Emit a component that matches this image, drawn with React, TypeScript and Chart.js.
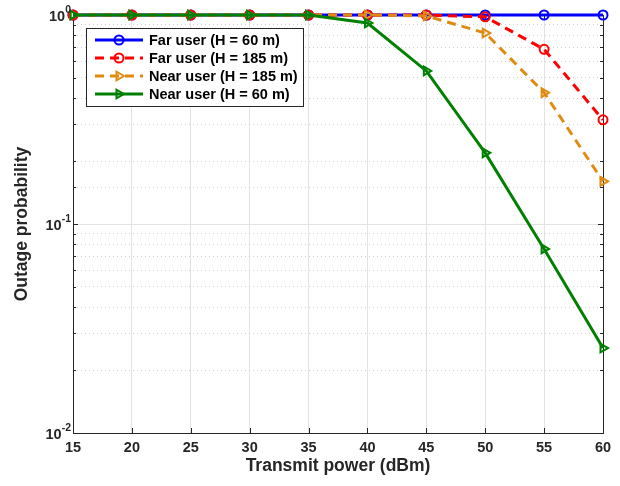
import React, { useEffect, useRef } from 'react';
import { Chart, registerables } from 'chart.js';

Chart.register(...registerables);

// ---------- data ----------
const transmitPower = [15, 20, 25, 30, 35, 40, 45, 50, 55, 60];
const farUserH60 = [1, 1, 1, 1, 1, 1, 1, 1, 1, 1];
const farUserH185 = [1, 1, 1, 1, 1, 1, 1, 0.98, 0.685, 0.315];
const nearUserH185 = [1, 1, 1, 1, 1, 1, 0.99, 0.82, 0.425, 0.16];
const nearUserH60 = [1, 1, 1, 1, 1, 0.916, 0.54, 0.219, 0.076, 0.0255];
const seriesLabels = [
  'Far user (H = 60 m)',
  'Far user (H = 185 m)',
  'Near user (H = 185 m)',
  'Near user (H = 60 m)',
];
const yTickExponents = [0, -1, -2];
const xTicks = [15, 20, 25, 30, 35, 40, 45, 50, 55, 60];

const FONT = "'Liberation Sans', Arial, sans-serif";
const TEXT = '#262626';

const toPoints = (ys: number[]) => transmitPower.map((x, i) => ({ x, y: ys[i] }));

function drawMarker(ctx: CanvasRenderingContext2D, style: string, x: number, y: number, r: number) {
  ctx.beginPath();
  if (style === 'circle') {
    ctx.arc(x, y, r, 0, Math.PI * 2);
  } else {
    ctx.moveTo(x + r, y);
    ctx.lineTo(x - r * 0.5, y - r * 0.87);
    ctx.lineTo(x - r * 0.5, y + r * 0.87);
    ctx.closePath();
  }
  ctx.stroke();
}

const isMajor = (v: number) => Math.abs(Math.log10(v) - Math.round(Math.log10(v))) < 1e-9;

const framePlugin = {
  id: 'matlabFrame',
  beforeDatasetsDraw(chart: any) {
    const { ctx, chartArea: a, scales } = chart;
    const ys = scales.y;
    const xs = scales.x;
    ctx.save();
    ctx.strokeStyle = TEXT;
    ctx.lineWidth = 1;
    ctx.setLineDash([]);
    ctx.strokeRect(Math.round(a.left) + 0.5, Math.round(a.top) + 0.5, Math.round(a.right - a.left), Math.round(a.bottom - a.top));
    ctx.beginPath();
    xTicks.forEach((v) => {
      const px = Math.round(xs.getPixelForValue(v)) + 0.5;
      ctx.moveTo(px, a.bottom);
      ctx.lineTo(px, a.bottom - 5);
      ctx.moveTo(px, a.top);
      ctx.lineTo(px, a.top + 5);
    });
    ys.ticks.forEach((t: any) => {
      const py = Math.round(ys.getPixelForValue(t.value)) + 0.5;
      const len = isMajor(t.value) ? 5 : 3;
      ctx.moveTo(a.left, py);
      ctx.lineTo(a.left + len, py);
      ctx.moveTo(a.right, py);
      ctx.lineTo(a.right - len, py);
    });
    ctx.stroke();
    ctx.restore();
  },
  afterDraw(chart: any) {
    const { ctx, chartArea: a, scales } = chart;
    const ys = scales.y;
    ctx.save();
    ctx.fillStyle = TEXT;
    ctx.textBaseline = 'middle';
    yTickExponents.forEach((e) => {
      const py = ys.getPixelForValue(Math.pow(10, e));
      const expText = String(e);
      ctx.font = `bold 10.5px ${FONT}`;
      const ew = ctx.measureText(expText).width;
      const right = a.left - 2;
      ctx.textAlign = 'left';
      ctx.fillText(expText, right - ew, py - 5);
      ctx.font = `bold 14.5px ${FONT}`;
      ctx.textAlign = 'right';
      ctx.fillText('10', right - ew, py + 2);
    });

    // legend
    const bx = a.left + 13;
    const by = a.top + 13;
    const bw = 217;
    const bh = 78;
    ctx.fillStyle = '#ffffff';
    ctx.fillRect(bx, by, bw, bh);
    ctx.strokeStyle = TEXT;
    ctx.lineWidth = 1;
    ctx.setLineDash([]);
    ctx.strokeRect(bx + 0.5, by + 0.5, bw, bh);
    chart.data.datasets.forEach((ds: any, i: number) => {
      const ry = by + 12 + i * 18;
      const x0 = bx + 9;
      const x1 = bx + 57;
      ctx.strokeStyle = ds.borderColor;
      ctx.lineWidth = ds.borderWidth;
      ctx.setLineDash(ds.borderDash || []);
      ctx.beginPath();
      ctx.moveTo(x0, ry);
      ctx.lineTo(x1, ry);
      ctx.stroke();
      ctx.setLineDash([]);
      ctx.lineWidth = ds.pointBorderWidth;
      ctx.strokeStyle = ds.pointBorderColor;
      drawMarker(ctx, ds.pointStyle, (x0 + x1) / 2, ry, ds.pointRadius);
      ctx.fillStyle = '#000000';
      ctx.font = `bold 14.5px ${FONT}`;
      ctx.textAlign = 'left';
      ctx.textBaseline = 'middle';
      ctx.fillText(ds.label, x1 + 6, ry + 1);
    });
    ctx.restore();
  },
};

export default function App() {
  const ref = useRef<HTMLCanvasElement | null>(null);

  useEffect(() => {
    if (!ref.current) return;
    const mk = (
      label: string,
      ys: number[],
      color: string,
      style: string,
      dash: number[],
      order: number
    ) => ({
      label,
      data: toPoints(ys),
      borderColor: color,
      backgroundColor: color,
      borderWidth: 3,
      borderDash: dash,
      pointStyle: style,
      pointRotation: style === 'triangle' ? 90 : 0,
      pointRadius: style === 'triangle' ? 5 : 4.5,
      pointHoverRadius: 5,
      pointBorderWidth: 2,
      pointBorderColor: color,
      pointBackgroundColor: 'rgba(0,0,0,0)',
      tension: 0,
      clip: false as const,
      order,
    });

    const chart = new Chart(ref.current, {
      type: 'line',
      data: {
        datasets: [
          mk(seriesLabels[0], farUserH60, '#0000ff', 'circle', [], 4),
          mk(seriesLabels[1], farUserH185, '#ff0000', 'circle', [9, 6], 3),
          mk(seriesLabels[2], nearUserH185, '#e08a10', 'triangle', [9, 6], 2),
          mk(seriesLabels[3], nearUserH60, '#008000', 'triangle', [], 1),
        ],
      },
      options: {
        animation: false,
        responsive: false,
        maintainAspectRatio: false,
        layout: { padding: { top: 15, right: 17, left: 0, bottom: 9 } },
        plugins: { legend: { display: false }, tooltip: { enabled: false } },
        scales: {
          x: {
            type: 'linear',
            min: 15,
            max: 60,
            afterFit: (s: any) => {
              s.height = 44;
            },
            afterBuildTicks: (s: any) => {
              s.ticks = xTicks.map((v) => ({ value: v }));
            },
            ticks: {
              color: TEXT,
              font: { family: FONT, size: 14.5, weight: 'bold' },
              padding: 6,
              maxRotation: 0,
              autoSkip: false,
            },
            grid: { color: '#e3e3e3', lineWidth: 1, drawTicks: false },
            border: { display: false },
            title: {
              display: true,
              text: 'Transmit power (dBm)',
              color: TEXT,
              font: { family: FONT, size: 17.5, weight: 'bold' },
              padding: { top: 0, bottom: 0 },
            },
          },
          y: {
            type: 'logarithmic',
            min: 0.01,
            max: 1,
            afterFit: (s: any) => {
              s.width = 73;
            },
            ticks: {
              callback: () => '',
              autoSkip: false,
            },
            grid: {
              drawTicks: false,
              color: (c: any) => {
                const v = c.tick ? c.tick.value : 1;
                return isMajor(v) ? '#e3e3e3' : '#d0d0d0';
              },
              lineWidth: 1,
            },
            border: {
              display: false,
              dash: (c: any) => {
                const v = c.tick ? c.tick.value : 1;
                return isMajor(v) ? [] : [1, 3];
              },
            } as any,
            title: {
              display: true,
              text: 'Outage probability',
              color: TEXT,
              font: { family: FONT, size: 17.5, weight: 'bold' },
              padding: { top: 12, bottom: 0 },
            },
          },
        },
      } as any,
      plugins: [framePlugin],
    });
    return () => chart.destroy();
  }, []);

  return (
    <div style={{ position: 'fixed', left: 0, top: 0, width: 620, height: 486, background: '#fff' }}>
      <canvas ref={ref} width={620} height={486} style={{ width: 620, height: 486 }} />
    </div>
  );
}
